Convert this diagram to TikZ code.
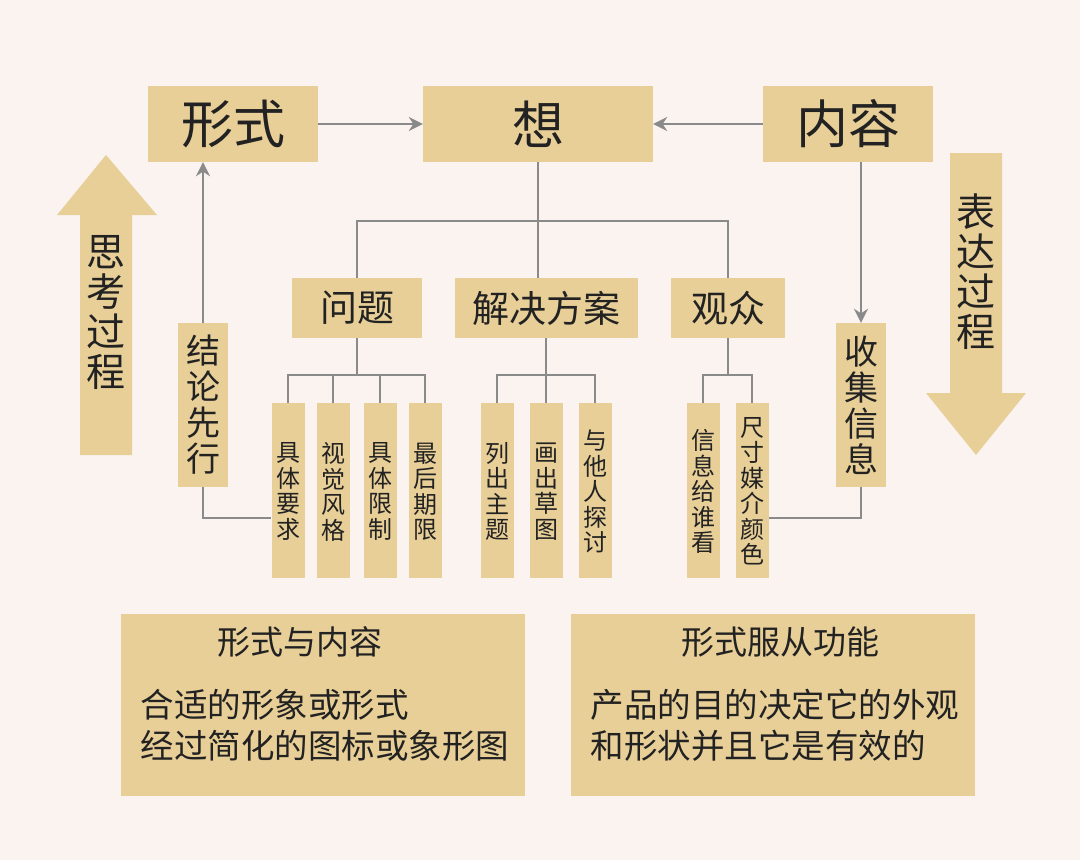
\documentclass[tikz,border=0pt]{standalone}
\usepackage{fontspec}
\setmainfont{Noto Sans CJK SC}
\usetikzlibrary{arrows.meta}
\definecolor{bg}{HTML}{FAF3EF}
\definecolor{bx}{HTML}{E8CF98}
\definecolor{ln}{HTML}{8A8A8A}
\definecolor{tx}{HTML}{222222}
\begin{document}
\begin{tikzpicture}[x=1pt,y=-1pt,
  box/.style={fill=bx,draw=none,inner sep=0pt,text=tx},
  big/.style={box,font=\fontsize{52}{56}\selectfont},
  mid/.style={box,font=\fontsize{37}{40}\selectfont},
  sm/.style={box,font=\fontsize{24}{25.5}\selectfont,align=center,anchor=north,minimum width=33pt,minimum height=175pt,text depth=0pt},
  vt/.style={box,font=\fontsize{34}{36}\selectfont,align=center,minimum width=50pt,minimum height=164pt},
  ln/.style={draw=ln,line width=2.5pt},
  arr/.style={ln,-{Stealth[length=14pt,width=14pt]}}]
\fill[bg] (0,0) rectangle (1080,860);
\useasboundingbox (0,0) rectangle (1080,860);
% top boxes
\node[big,minimum width=170pt,minimum height=76pt] (xs) at (233,124) {形式};
\node[big,minimum width=230pt,minimum height=76pt] (x) at (538,124) {想};
\node[big,minimum width=170pt,minimum height=76pt] (nr) at (848,124) {内容};
\draw[arr] (xs.east) -- (x.west);
\draw[arr] (nr.west) -- (x.east);
% big arrows
\fill[bx] (80,455) -- (80,215) -- (57,215) -- (106,155) -- (157,215) -- (132,215) -- (132,455) -- cycle;
\node[text=tx,font=\fontsize{39}{40}\selectfont,align=center] (sk) at (106,312) {思\\考\\过\\程};
\fill[bx] (950,153) -- (950,393) -- (926,393) -- (976,455) -- (1026,393) -- (1002,393) -- (1002,153) -- cycle;
\node[text=tx,font=\fontsize{39}{40}\selectfont,align=center] (bd) at (976,272) {表\\达\\过\\程};
% mid boxes
\node[mid,minimum width=130pt,minimum height=60pt] (wt) at (357,308) {问题};
\node[mid,minimum width=183pt,minimum height=60pt] (fa) at (546,308) {解决方案};
\node[mid,minimum width=114pt,minimum height=60pt] (gz) at (728,308) {观众};
\coordinate (b0) at (538,221);
\draw[ln] (x.south-|b0) -- (b0);
\draw[ln] (wt.north) |- (b0) -| (gz.north);
\draw[ln] (b0) -- (fa.north-|b0);
\node[vt] (jl) at (203,405) {结\\论\\先\\行};
\node[vt] (sj) at (861,405) {收\\集\\信\\息};
\draw[arr] (jl.north) -- (xs.south-|jl.north);
\draw[arr] (nr.south-|sj.north) -- (sj.north);
% small boxes
\node[sm] (a1) at (288,403) {具\\体\\要\\求};
\node[sm] (a2) at (333,403) {视\\觉\\风\\格};
\node[sm] (a3) at (380,403) {具\\体\\限\\制};
\node[sm] (a4) at (425,403) {最\\后\\期\\限};
\node[sm] (c1) at (497,403) {列\\出\\主\\题};
\node[sm] (c2) at (546,403) {画\\出\\草\\图};
\node[sm] (c3) at (595,403) {与\\他\\人\\探\\讨};
\node[sm] (d1) at (703,403) {信\\息\\给\\谁\\看};
\node[sm] (d2) at (752,403) {尺\\寸\\媒\\介\\颜\\色};
\coordinate (ba) at (357,375);
\coordinate (bc) at (546,375);
\coordinate (bd2) at (728,375);
\draw[ln] (wt.south) -- (ba);
\foreach \n in {a1,a2,a3,a4} \draw[ln] (ba) -| (\n.north);
\draw[ln] (fa.south) -- (bc);
\foreach \n in {c1,c2,c3} \draw[ln] (bc) -| (\n.north);
\draw[ln] (gz.south) -- (bd2);
\foreach \n in {d1,d2} \draw[ln] (bd2) -| (\n.north);
\draw[ln] (jl.south) |- (a1.west|-0,518);
\draw[ln] (sj.south) |- (d2.east|-0,518);
% bottom boxes
\node[box,minimum width=404pt,minimum height=182pt] (L) at (323,705) {};
\node[box,minimum width=404pt,minimum height=182pt] (R) at (773,705) {};
\node[text=tx,font=\fontsize{33}{36}\selectfont] (Lt) at (300,642) {形式与内容};
\node[text=tx,font=\fontsize{33}{36}\selectfont] (Rt) at (780,642) {形式服从功能};
\node[text=tx,font=\fontsize{33.5}{41}\selectfont,align=left,anchor=west] (Lb) at (137,725) {合适的形象或形式\\经过简化的图标或象形图};
\node[text=tx,font=\fontsize{33.5}{41}\selectfont,align=left,anchor=west] (Rb) at (587,725) {产品的目的决定它的外观\\和形状并且它是有效的};
\end{tikzpicture}
\end{document}
